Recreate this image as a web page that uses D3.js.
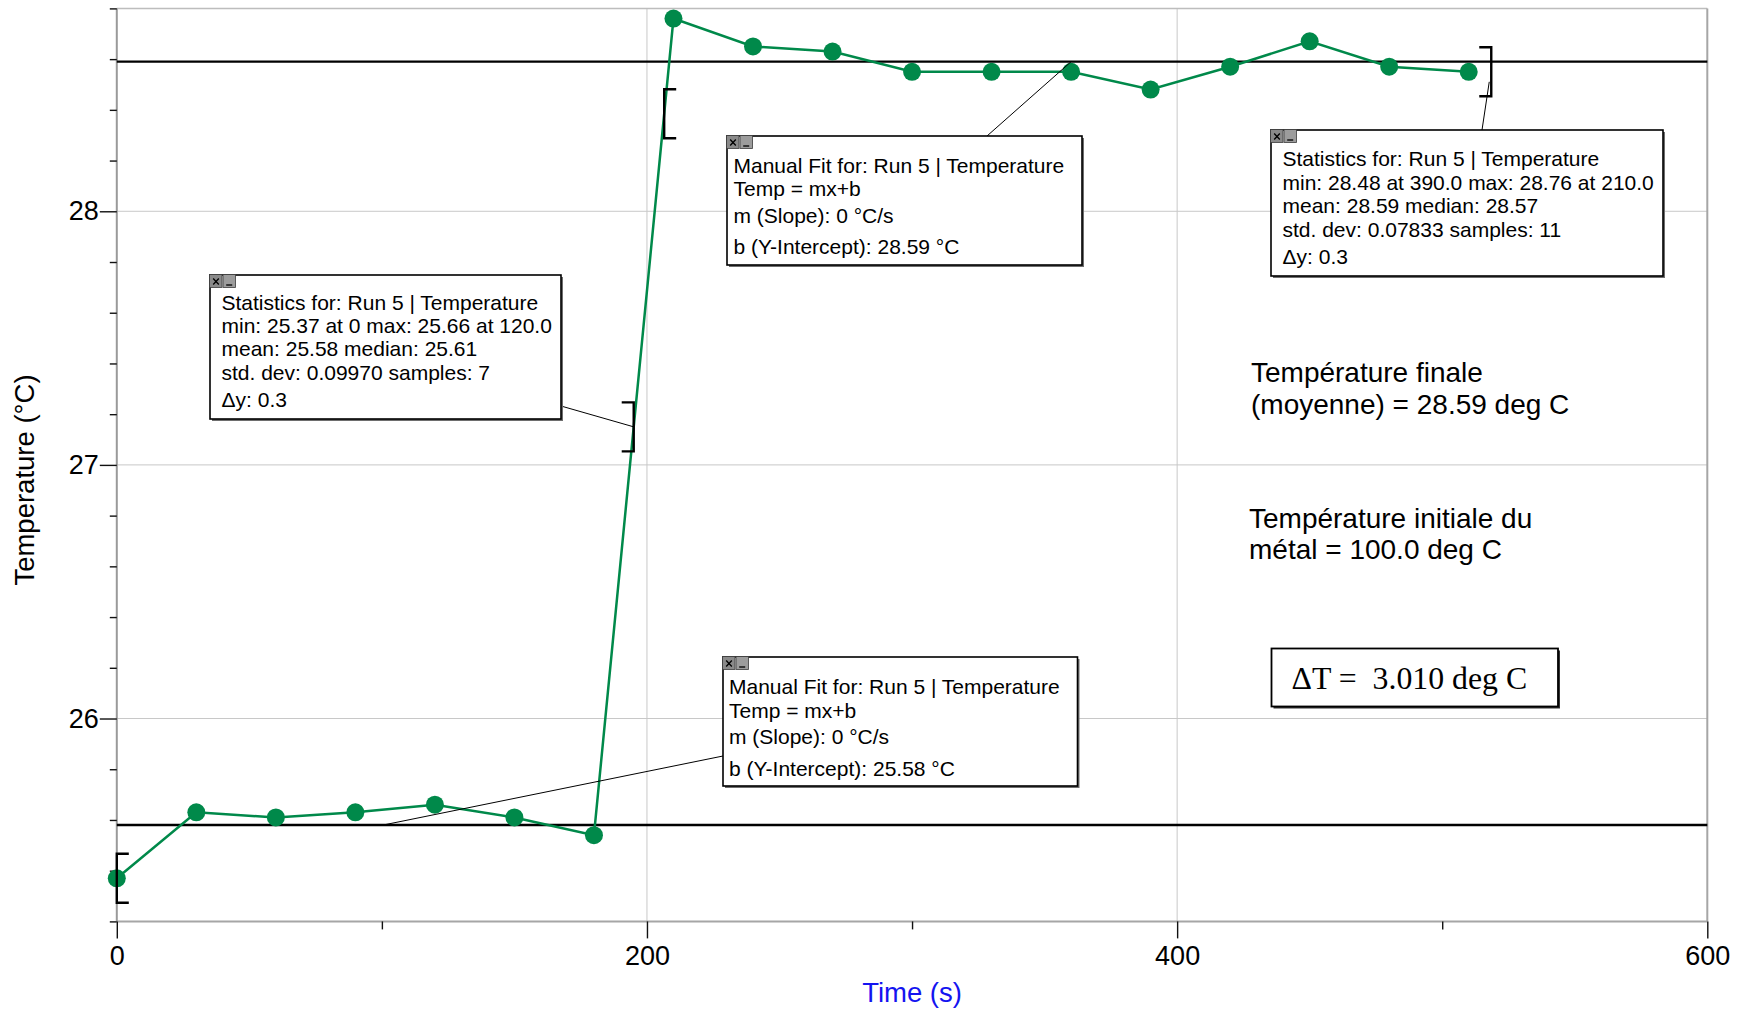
<!DOCTYPE html>
<html>
<head>
<meta charset="utf-8">
<script src="https://cdn.jsdelivr.net/npm/d3@7"></script>
<style>
  body { margin: 0; background: #fff; }
  svg { display: block; }
  text { font-family: "Liberation Sans", Arial, sans-serif; }
</style>
</head>
<body>
<svg id="chart" width="1744" height="1009"></svg>
<script>
// Run 5 — temperature of the water vs. time
const times = [0, 30, 60, 90, 120, 150, 180, 210, 240, 270, 300, 330, 360, 390, 420, 450, 480, 510];
const temps = [25.37, 25.63, 25.61, 25.63, 25.66, 25.61, 25.54,
               28.76, 28.65, 28.63, 28.55, 28.55, 28.55, 28.48, 28.57, 28.67, 28.57, 28.55];

// manual fits (horizontal, slope 0): initial and final levels
const fitLevels = [25.58, 28.59];

// statistics selections [start, end] in seconds
const statRanges = [[0, 195], [206.5, 518.5]];

// axis ticks
const xMajorTicks = [0, 200, 400, 600];
const xMinorTicks = [100, 300, 500];
const yMajorTicks = [26, 27, 28];
const yMinorTicks = [25.2, 25.4, 25.6, 25.8, 26.2, 26.4, 26.6, 26.8, 27.2, 27.4, 27.6, 27.8, 28.2, 28.4, 28.6, 28.8];
const xGrid = [200, 400];
const yGrid = [26, 27, 28];

const svg = d3.select("#chart");
const W = 1744, H = 1009;
const plot = { left: 116.8, right: 1707.3, top: 8.4, bottom: 921.4 };

const x = d3.scaleLinear().domain([0, 600]).range([plot.left, plot.right]);
const y = d3.scaleLinear().domain([25.2, 28.8]).range([plot.bottom, plot.top]);

const GREEN = "#00894a";

svg.append("rect").attr("width", W).attr("height", H).attr("fill", "#fff");

// grid
svg.append("g").selectAll("line").data(xGrid).join("line")
  .attr("x1", d => x(d)).attr("x2", d => x(d))
  .attr("y1", plot.top).attr("y2", plot.bottom)
  .attr("stroke", "#c8c8c8").attr("stroke-width", 1);
svg.append("g").selectAll("line").data(yGrid).join("line")
  .attr("x1", plot.left).attr("x2", plot.right)
  .attr("y1", d => y(d)).attr("y2", d => y(d))
  .attr("stroke", "#c8c8c8").attr("stroke-width", 1);

// frame
svg.append("line").attr("x1", plot.left).attr("x2", plot.right)
  .attr("y1", plot.top).attr("y2", plot.top)
  .attr("stroke", "#bdbdbd").attr("stroke-width", 1.5);
svg.append("line").attr("x1", plot.right).attr("x2", plot.right)
  .attr("y1", plot.top).attr("y2", plot.bottom)
  .attr("stroke", "#a6a6a6").attr("stroke-width", 2);
svg.append("line").attr("x1", plot.left).attr("x2", plot.right)
  .attr("y1", plot.bottom).attr("y2", plot.bottom)
  .attr("stroke", "#a6a6a6").attr("stroke-width", 2);
svg.append("line").attr("x1", plot.left).attr("x2", plot.left)
  .attr("y1", plot.top).attr("y2", plot.bottom)
  .attr("stroke", "#9a9a9a").attr("stroke-width", 2);

// axes
function styleAxis(g) {
  g.select(".domain").remove();
  g.selectAll(".tick line").attr("stroke", "#111").attr("stroke-width", 1.4);
  g.selectAll(".tick text").attr("fill", "#000")
    .style("font-family", '"Liberation Sans", Arial, sans-serif').style("font-size", "27px");
}
svg.append("g").attr("transform", `translate(0,${plot.bottom})`)
  .call(d3.axisBottom(x).tickValues(xMajorTicks).tickSize(17).tickPadding(7).tickFormat(d3.format("d")))
  .call(styleAxis);
svg.append("g").attr("transform", `translate(0,${plot.bottom})`)
  .call(d3.axisBottom(x).tickValues(xMinorTicks).tickSize(8).tickFormat(""))
  .call(styleAxis);
svg.append("g").attr("transform", `translate(${plot.left},0)`)
  .call(d3.axisLeft(y).tickValues(yMajorTicks).tickSize(17).tickPadding(1).tickFormat(d3.format("d")))
  .call(styleAxis);
svg.append("g").attr("transform", `translate(${plot.left},0)`)
  .call(d3.axisLeft(y).tickValues(yMinorTicks).tickSize(7).tickFormat(""))
  .call(styleAxis);

// axis titles
svg.append("text")
  .attr("x", (plot.left + plot.right) / 2).attr("y", 1002)
  .attr("text-anchor", "middle").attr("fill", "#1414f0")
  .style("font-size", "27.5px").text("Time (s)");
svg.append("text")
  .attr("transform", `translate(33.5,480) rotate(-90)`)
  .attr("text-anchor", "middle").attr("fill", "#000")
  .style("font-size", "27.5px").text("Temperature (°C)");

// manual-fit lines
svg.append("g").selectAll("line").data(fitLevels).join("line")
  .attr("x1", plot.left).attr("x2", plot.right)
  .attr("y1", d => y(d)).attr("y2", d => y(d))
  .attr("stroke", "#000").attr("stroke-width", 2.4);

// data line and points
const pts = times.map((t, i) => [t, temps[i]]);
svg.append("path").datum(pts)
  .attr("fill", "none").attr("stroke", GREEN).attr("stroke-width", 2.5)
  .attr("d", d3.line().x(d => x(d[0])).y(d => y(d[1])));
svg.append("g").selectAll("circle").data(pts).join("circle")
  .attr("cx", d => x(d[0])).attr("cy", d => y(d[1])).attr("r", 9)
  .attr("fill", GREEN);

// temperature along the trace at any time (clamped at the ends)
function tempAt(t) {
  if (t <= times[0]) return temps[0];
  if (t >= times[times.length - 1]) return temps[temps.length - 1];
  const i = d3.bisectRight(times, t) - 1;
  const f = (t - times[i]) / (times[i + 1] - times[i]);
  return temps[i] + f * (temps[i + 1] - temps[i]);
}

// selection brackets
const BR_H = 24.5, BR_W = 12;
const brackets = svg.append("g").attr("fill", "none").attr("stroke", "#000").attr("stroke-width", 2.4);
statRanges.forEach(([a, b]) => {
  const xa = x(a), ya = y(tempAt(a));
  const xb = x(b), yb = y(tempAt(b));
  brackets.append("path")
    .attr("d", `M${xa + BR_W},${ya - BR_H}H${xa}V${ya + BR_H}H${xa + BR_W}`);
  brackets.append("path")
    .attr("d", `M${xb - BR_W},${yb - BR_H}H${xb}V${yb + BR_H}H${xb - BR_W}`);
});

// annotation boxes
const boxes = [
  { x: 210, y: 275, w: 351, h: 144, inset: 11.5,
    lines: [["Statistics for: Run 5 | Temperature", 35],
            ["min: 25.37 at 0 max: 25.66 at 120.0", 58],
            ["mean: 25.58 median: 25.61", 81],
            ["std. dev: 0.09970 samples: 7", 104.5],
            ["Δy: 0.3", 132]],
    from: [351, 131], to: () => [x(statRanges[0][1]), y(tempAt(statRanges[0][1]))] },
  { x: 727, y: 136, w: 355, h: 129, inset: 6.5,
    lines: [["Manual Fit for: Run 5 | Temperature", 36.5],
            ["Temp = mx+b", 60],
            ["m (Slope): 0 °C/s", 86.5],
            ["b (Y-Intercept): 28.59 °C", 118]],
    from: [260, 0], to: () => [x(360), y(fitLevels[1])] },
  { x: 1271, y: 130, w: 392, h: 146, inset: 11.5,
    lines: [["Statistics for: Run 5 | Temperature", 36],
            ["min: 28.48 at 390.0 max: 28.76 at 210.0", 60],
            ["mean: 28.59 median: 28.57", 83],
            ["std. dev: 0.07833 samples: 11", 107],
            ["Δy: 0.3", 134]],
    from: [211, 0], to: () => [x(statRanges[1][1]) - 2, y(tempAt(statRanges[1][1])) + 10] },
  { x: 723, y: 657, w: 354.5, h: 129, inset: 6,
    lines: [["Manual Fit for: Run 5 | Temperature", 37],
            ["Temp = mx+b", 60.5],
            ["m (Slope): 0 °C/s", 87],
            ["b (Y-Intercept): 25.58 °C", 119]],
    from: [0, 99], to: () => [x(100.5), y(fitLevels[0])] }
];

boxes.forEach(b => {
  const [tx, ty] = b.to();
  svg.append("line")
    .attr("x1", b.x + b.from[0]).attr("y1", b.y + b.from[1])
    .attr("x2", tx).attr("y2", ty)
    .attr("stroke", "#000").attr("stroke-width", 1);
});

boxes.forEach(b => {
  const g = svg.append("g").attr("transform", `translate(${b.x},${b.y})`);
  // shadow
  g.append("rect").attr("x", 2).attr("y", 2).attr("width", b.w).attr("height", b.h)
    .attr("fill", "#6e6e6e");
  g.append("rect").attr("width", b.w).attr("height", b.h)
    .attr("fill", "#fff").attr("stroke", "#000").attr("stroke-width", 1.6);
  // close / minimize buttons
  g.append("rect").attr("x", -0.5).attr("y", -0.5).attr("width", 12.5).attr("height", 13)
    .attr("fill", "#8a8a8a").attr("stroke", "#3c3c3c").attr("stroke-width", 0.8);
  g.append("path").attr("d", "M3.2,3.5L8.8,9.5M8.8,3.5L3.2,9.5")
    .attr("stroke", "#000").attr("stroke-width", 1.3);
  g.append("rect").attr("x", 13).attr("y", -0.5).attr("width", 12.5).attr("height", 13)
    .attr("fill", "#9c9c9c").attr("stroke", "#3c3c3c").attr("stroke-width", 0.8);
  g.append("path").attr("d", "M16.2,10H22.2")
    .attr("stroke", "#000").attr("stroke-width", 1.3);
  g.selectAll("text.l").data(b.lines).join("text").attr("class", "l")
    .attr("x", b.inset).attr("y", d => d[1])
    .attr("fill", "#000").style("font-size", "21px")
    .text(d => d[0]);
});

// free text notes
const notes = [
  ["Température finale", 1251, 382],
  ["(moyenne) = 28.59 deg C", 1251, 413.5],
  ["Température initiale du", 1249, 528],
  ["métal = 100.0 deg C", 1249, 559]
];
svg.append("g").selectAll("text").data(notes).join("text")
  .attr("x", d => d[1]).attr("y", d => d[2])
  .attr("fill", "#000").style("font-size", "28px")
  .text(d => d[0]);

// ΔT box
const dT = d3.format(".3f")(fitLevels[1] - fitLevels[0]);
const dtG = svg.append("g").attr("transform", "translate(1271.5,648.5)");
dtG.append("rect").attr("x", 2).attr("y", 2).attr("width", 286.5).attr("height", 58).attr("fill", "#333");
dtG.append("rect").attr("width", 286.5).attr("height", 58)
  .attr("fill", "#fff").attr("stroke", "#000").attr("stroke-width", 1.8);
dtG.append("text").attr("x", 20).attr("y", 40)
  .attr("xml:space", "preserve").style("white-space", "pre")
  .style("font-family", '"Liberation Serif", "Times New Roman", serif')
  .style("font-size", "31.8px").attr("fill", "#000")
  .text(`ΔT =  ${dT} deg C`);
</script>
</body>
</html>
